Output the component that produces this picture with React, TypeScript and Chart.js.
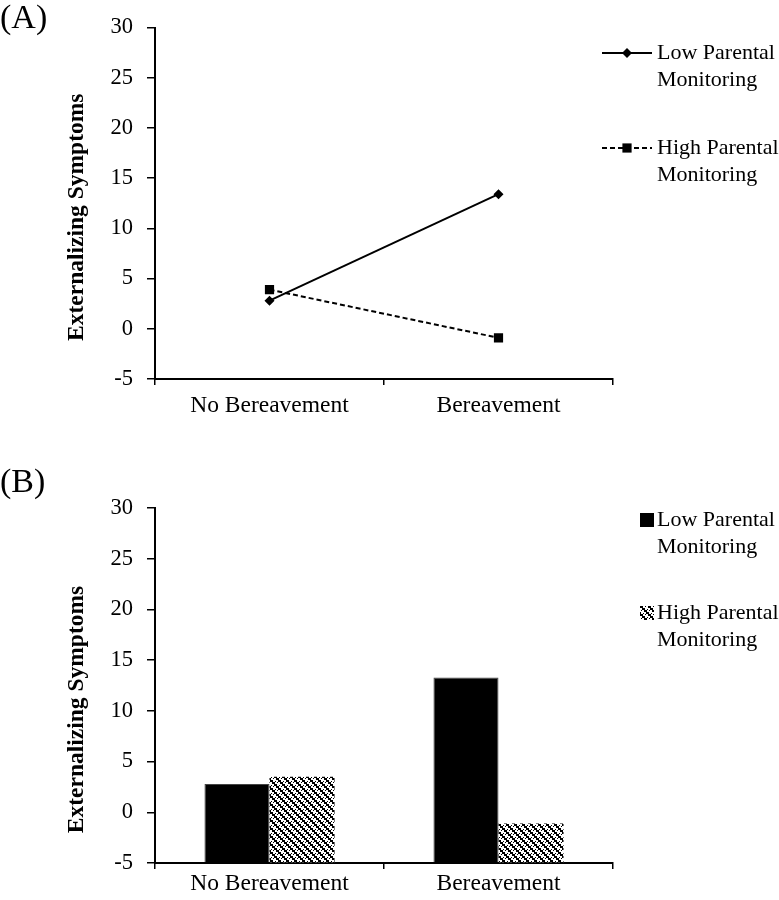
import React, { useEffect, useRef } from 'react';
import { Chart, registerables } from 'chart.js';
Chart.register(...registerables);

const categories = ['No Bereavement', 'Bereavement'];
const seriesNames = ['Low Parental Monitoring', 'High Parental Monitoring'];
const lineLow = [2.8, 13.4];
const lineHigh = [3.9, -0.9];
const barLow = [2.8, 13.3];
const barHigh = [3.5, -1.1];
const yMin = -5;
const yMax = 30;
const yStep = 5;
const yTitle = 'Externalizing Symptoms';
const panelLabels = ['(A)', '(B)'];

const FONT = '"Liberation Serif", "Times New Roman", serif';

function splitName(name: string): string[] {
  const i = name.lastIndexOf(' ');
  return [name.slice(0, i), name.slice(i + 1)];
}

function makePattern(): CanvasPattern | string {
  const tile = [
    '###..#..',
    '###.....',
    '..###...',
    '..###..#',
    '.#..###.',
    '....###.',
    '#.....##',
    '#..#..##',
  ];
  const c = document.createElement('canvas');
  c.width = 8;
  c.height = 8;
  const g = c.getContext('2d');
  if (!g) return '#888';
  g.fillStyle = '#fff';
  g.fillRect(0, 0, 8, 8);
  g.fillStyle = '#000';
  tile.forEach((row, y) => {
    for (let x = 0; x < row.length; x++) if (row[x] === '#') g.fillRect(x, y, 1, 1);
  });
  const p = g.createPattern(c, 'repeat');
  return p || '#888';
}

const yTitlePlugin = {
  id: 'yTitleP',
  afterDraw(chart: any, _a: any, opts: any) {
    const { ctx, chartArea } = chart;
    ctx.save();
    ctx.translate(opts.x, (chartArea.top + chartArea.bottom) / 2 + opts.dy);
    ctx.rotate(-Math.PI / 2);
    ctx.font = `bold ${opts.size}px ${FONT}`;
    ctx.fillStyle = '#000';
    ctx.textAlign = 'center';
    ctx.textBaseline = 'middle';
    ctx.fillText(opts.text, 0, 0);
    ctx.restore();
  },
};

const sideLegendPlugin = {
  id: 'sideLegend',
  afterDraw(chart: any, _a: any, opts: any) {
    const { ctx } = chart;
    chart.data.datasets.forEach((ds: any, i: number) => {
      const y = opts.ys[i];
      ctx.save();
      if (opts.kind === 'line') {
        ctx.strokeStyle = ds.borderColor;
        ctx.lineWidth = ds.borderWidth;
        ctx.setLineDash(ds.borderDash || []);
        ctx.beginPath();
        ctx.moveTo(opts.x - 55, y);
        ctx.lineTo(opts.x - 5, y);
        ctx.stroke();
        ctx.setLineDash([]);
        ctx.fillStyle = ds.pointBackgroundColor;
        const cx = opts.x - 30;
        if (ds.pointStyle === 'rectRot') {
          const r = ds.pointRadius;
          ctx.beginPath();
          ctx.moveTo(cx, y - r);
          ctx.lineTo(cx + r, y);
          ctx.lineTo(cx, y + r);
          ctx.lineTo(cx - r, y);
          ctx.closePath();
          ctx.fill();
        } else {
          const s = ds.pointRadius * Math.SQRT1_2;
          ctx.fillRect(cx - s, y - s, 2 * s, 2 * s);
        }
      } else {
        ctx.fillStyle = ds.backgroundColor;
        ctx.fillRect(opts.x - 17, y - 7, 14, 14);
      }
      ctx.fillStyle = '#000';
      ctx.font = `${opts.size}px ${FONT}`;
      ctx.textAlign = 'left';
      ctx.textBaseline = 'middle';
      const lines = splitName(ds.label);
      lines.forEach((t, k) => ctx.fillText(t, opts.x, y + k * 27));
      ctx.restore();
    });
  },
};

function scales(xPad: number, yW: number, xH: number) {
  return {
    x: {
      type: 'category' as const,
      offset: true,
      afterFit: (s: any) => { s.height = xH; },
      grid: { display: true, drawOnChartArea: false, drawTicks: true, tickLength: 6, offset: true, color: '#000', lineWidth: 1.5 },
      border: { display: true, color: '#000', width: 2 },
      ticks: { color: '#000', font: { family: FONT, size: 23.5 }, padding: xPad, maxRotation: 0 },
    },
    y: {
      min: yMin,
      max: yMax,
      afterFit: (s: any) => { s.width = yW; },
      grid: { display: true, drawOnChartArea: false, drawTicks: true, tickLength: 8, color: '#000', lineWidth: 1.5 },
      border: { display: true, color: '#000', width: 2 },
      ticks: { stepSize: yStep, color: '#000', font: { family: FONT, size: 22.5 }, padding: 14 },
    },
  };
}

function LineChart() {
  const ref = useRef<HTMLCanvasElement>(null);
  useEffect(() => {
    if (!ref.current) return;
    const chart = new Chart(ref.current, {
      type: 'line',
      data: {
        labels: categories,
        datasets: [
          { label: seriesNames[0], data: lineLow, borderColor: '#000', borderWidth: 2, pointStyle: 'rectRot', pointRadius: 5, pointBackgroundColor: '#000', pointBorderColor: '#000', pointBorderWidth: 0 } as any,
          { label: seriesNames[1], data: lineHigh, borderColor: '#000', borderWidth: 2, borderDash: [5, 3], pointStyle: 'rect', pointRadius: 6.5, pointBackgroundColor: '#000', pointBorderColor: '#000', pointBorderWidth: 0 } as any,
        ],
      },
      options: {
        responsive: false,
        animation: false,
        layout: { padding: { left: 60, right: 166, top: 25, bottom: 0 } },
        scales: scales(7, 95, 51) as any,
        plugins: {
          legend: { display: false },
          tooltip: { enabled: false },
          yTitleP: { x: 77, dy: 14, size: 23.5, text: yTitle },
          sideLegend: { kind: 'line', x: 657, ys: [53, 148], size: 22 },
        } as any,
      },
      plugins: [yTitlePlugin, sideLegendPlugin],
    });
    return () => chart.destroy();
  }, []);
  return <canvas ref={ref} width={779} height={430} />;
}

function BarChart() {
  const ref = useRef<HTMLCanvasElement>(null);
  useEffect(() => {
    if (!ref.current) return;
    const pattern = makePattern();
    const chart = new Chart(ref.current, {
      type: 'bar',
      data: {
        labels: categories,
        datasets: [
          { label: seriesNames[0], data: barLow, base: yMin, backgroundColor: '#000', borderColor: '#444', borderWidth: 1 } as any,
          { label: seriesNames[1], data: barHigh, base: yMin, backgroundColor: pattern, borderWidth: 0 } as any,
        ],
      },
      options: {
        responsive: false,
        animation: false,
        datasets: { bar: { categoryPercentage: 0.568, barPercentage: 1 } },
        layout: { padding: { left: 60, right: 166, top: 78, bottom: 0 } },
        scales: scales(1, 95, 37) as any,
        plugins: {
          legend: { display: false },
          tooltip: { enabled: false },
          yTitleP: { x: 77, dy: 24, size: 23.5, text: yTitle },
          sideLegend: { kind: 'bar', x: 657, ys: [90, 183], size: 22 },
        } as any,
      },
      plugins: [yTitlePlugin, sideLegendPlugin],
    });
    return () => chart.destroy();
  }, []);
  return <canvas ref={ref} width={779} height={470} />;
}

export default function App() {
  const labelStyle: React.CSSProperties = {
    position: 'absolute', left: 0, fontFamily: FONT, fontSize: 34, lineHeight: '36px', color: '#000',
  };
  return (
    <div style={{ position: 'absolute', left: 0, top: 0, width: 779, height: 900, background: '#fff', overflow: 'hidden' }}>
      <div style={{ position: 'absolute', left: 0, top: 0, width: 779, height: 430 }}>
        <LineChart />
      </div>
      <div style={{ position: 'absolute', left: 0, top: 430, width: 779, height: 470 }}>
        <BarChart />
      </div>
      <div style={{ ...labelStyle, top: -1 }}>{panelLabels[0]}</div>
      <div style={{ ...labelStyle, top: 463 }}>{panelLabels[1]}</div>
    </div>
  );
}
